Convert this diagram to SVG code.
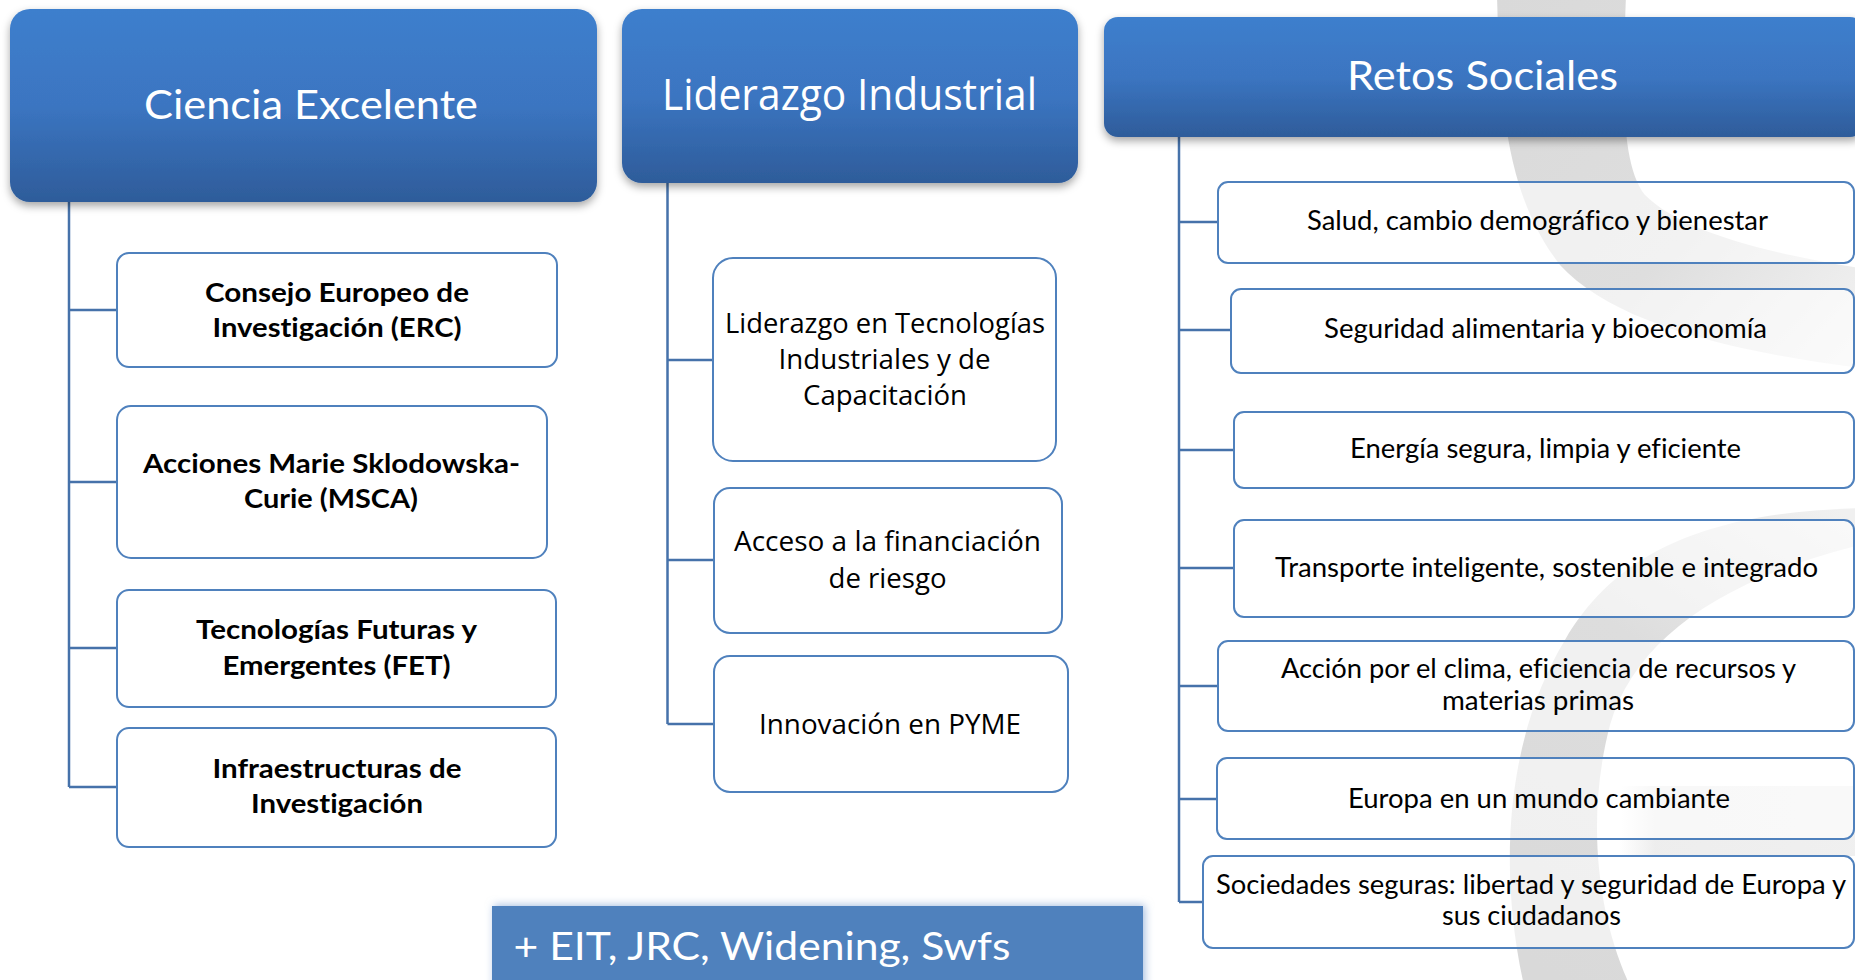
<svg xmlns="http://www.w3.org/2000/svg" width="1855" height="980" viewBox="0 0 1855 980">
<defs>
<style>
text{font-variant-ligatures:none;font-feature-settings:"liga" 0,"clig" 0;}
.hdr{fill:url(#hg);}
.box{fill:#ffffff;fill-opacity:0.6;stroke:#4F81BD;stroke-width:2;}
.conn{fill:none;stroke:#4672AA;stroke-width:2.5;}
.ht{font-family:Lato,"Liberation Sans",sans-serif;fill:#ffffff;text-anchor:middle;}
.hto{font-family:"Open Sans","Liberation Sans",sans-serif;fill:#ffffff;text-anchor:middle;}
.lb{font-family:Lato,"Liberation Sans",sans-serif;font-weight:bold;font-size:27px;fill:#000;text-anchor:middle;}
.mt{font-family:"Open Sans","Liberation Sans",sans-serif;font-size:28px;fill:#000;text-anchor:middle;}
.rt{font-family:Lato,"Liberation Sans",sans-serif;font-size:26px;fill:#000;text-anchor:middle;}
.et{font-family:Lato,"Liberation Sans",sans-serif;font-size:38px;fill:#fff;}
</style>
<linearGradient id="hg" x1="0" y1="0" x2="0" y2="1">
<stop offset="0" stop-color="#3e7fcd"/>
<stop offset="0.5" stop-color="#3b75c1"/>
<stop offset="1" stop-color="#2e5c9a"/>
</linearGradient>
<linearGradient id="wm1" gradientUnits="userSpaceOnUse" x1="1500" y1="0" x2="1855" y2="340">
<stop offset="0" stop-color="#d9d9d9"/>
<stop offset="0.6" stop-color="#dedede"/>
<stop offset="1" stop-color="#f2f2f2"/>
</linearGradient>
<linearGradient id="wm2" gradientUnits="userSpaceOnUse" x1="1560" y1="980" x2="1855" y2="520">
<stop offset="0" stop-color="#d9d9d9"/>
<stop offset="0.6" stop-color="#dddddd"/>
<stop offset="1" stop-color="#f0f0f0"/>
</linearGradient>
<linearGradient id="wm3" gradientUnits="userSpaceOnUse" x1="1620" y1="0" x2="1855" y2="0">
<stop offset="0" stop-color="#e6e6e6" stop-opacity="0"/>
<stop offset="0.15" stop-color="#e6e6e6" stop-opacity="1"/>
<stop offset="1" stop-color="#e9e9e9" stop-opacity="1"/>
</linearGradient>
<filter id="sh" x="-5%" y="-10%" width="110%" height="130%">
<feDropShadow dx="0" dy="4" stdDeviation="4" flood-color="#000" flood-opacity="0.35"/>
</filter>
<filter id="glow" x="-5%" y="-30%" width="110%" height="160%">
<feDropShadow dx="2" dy="-1" stdDeviation="4" flood-color="#7fa3d3" flood-opacity="0.7"/>
</filter>
</defs>

<rect x="0" y="0" width="1855" height="980" fill="#ffffff"/>

<g id="watermark">
<path d="M1497,-5 C1500,120 1510,200 1560,265 C1610,320 1720,350 1860,368 L1860,268 C1760,252 1680,230 1645,195 C1622,165 1622,100 1626,-5 Z" fill="url(#wm1)"/>
<path d="M1860,508 C1720,512 1620,545 1565,640 C1510,730 1495,860 1525,990 L1632,990 C1598,920 1585,820 1610,725 C1635,640 1720,580 1860,545 Z" fill="url(#wm2)"/>
<rect x="1620" y="786" width="240" height="70" fill="url(#wm3)" opacity="0.7"/>
</g>

<g id="connectors">
<path class="conn" d="M69,202 V787 M69,310 H117 M69,482 H117 M69,648 H117 M69,787 H117"/>
<path class="conn" d="M667.5,183 V724 M667.5,360 H713 M667.5,560 H714 M667.5,724 H714"/>
<path class="conn" d="M1179,137 V902 M1179,222 H1218 M1179,330 H1231 M1179,450 H1234 M1179,568 H1234 M1179,686 H1218 M1179,799 H1217 M1179,902 H1203"/>
</g>

<g id="h-ciencia">
<rect class="hdr" x="10" y="9" width="587" height="193" rx="20" filter="url(#sh)"/>
<text class="ht" x="311" y="119" font-size="40" textLength="334" lengthAdjust="spacingAndGlyphs">Ciencia Excelente</text>
</g>
<g id="h-liderazgo">
<rect class="hdr" x="622" y="9" width="456" height="174" rx="20" filter="url(#sh)"/>
<text class="hto" x="849.5" y="110" font-size="43" textLength="375" lengthAdjust="spacingAndGlyphs">Liderazgo Industrial</text>
</g>
<g id="h-retos">
<rect class="hdr" x="1104" y="17" width="760" height="120" rx="14" filter="url(#sh)"/>
<text class="ht" x="1482.5" y="90" font-size="40" textLength="271" lengthAdjust="spacingAndGlyphs">Retos Sociales</text>
</g>

<g id="n-erc">
<rect class="box" x="117" y="253" width="440" height="114" rx="12"/>
<text class="lb" x="337" y="302" textLength="264" lengthAdjust="spacingAndGlyphs">Consejo Europeo de</text>
<text class="lb" x="337" y="337" textLength="249" lengthAdjust="spacingAndGlyphs">Investigación (ERC)</text>
</g>
<g id="n-msca">
<rect class="box" x="117" y="406" width="430" height="152" rx="14"/>
<text class="lb" x="331.5" y="473" textLength="377" lengthAdjust="spacingAndGlyphs">Acciones Marie Sklodowska-</text>
<text class="lb" x="331" y="508" textLength="174" lengthAdjust="spacingAndGlyphs">Curie (MSCA)</text>
</g>
<g id="n-fet">
<rect class="box" x="117" y="590" width="439" height="117" rx="12"/>
<text class="lb" x="336.5" y="639" textLength="281" lengthAdjust="spacingAndGlyphs">Tecnologías Futuras y</text>
<text class="lb" x="336.5" y="675" textLength="228" lengthAdjust="spacingAndGlyphs">Emergentes (FET)</text>
</g>
<g id="n-infra">
<rect class="box" x="117" y="728" width="439" height="119" rx="12"/>
<text class="lb" x="337" y="778" textLength="249" lengthAdjust="spacingAndGlyphs">Infraestructuras de</text>
<text class="lb" x="337" y="813" textLength="172" lengthAdjust="spacingAndGlyphs">Investigación</text>
</g>

<g id="n-tecnologias">
<rect class="box" x="713" y="258" width="343" height="203" rx="20"/>
<text class="mt" x="885" y="333" textLength="320" lengthAdjust="spacingAndGlyphs">Liderazgo en Tecnologías</text>
<text class="mt" x="884.5" y="369" textLength="212" lengthAdjust="spacingAndGlyphs">Industriales y de</text>
<text class="mt" x="885" y="405" textLength="164" lengthAdjust="spacingAndGlyphs">Capacitación</text>
</g>
<g id="n-acceso">
<rect class="box" x="714" y="488" width="348" height="145" rx="16"/>
<text class="mt" x="887.5" y="551" textLength="307" lengthAdjust="spacingAndGlyphs">Acceso a la financiación</text>
<text class="mt" x="887.5" y="588" textLength="118" lengthAdjust="spacingAndGlyphs">de riesgo</text>
</g>
<g id="n-pyme">
<rect class="box" x="714" y="656" width="354" height="136" rx="16"/>
<text class="mt" x="890" y="734" textLength="262" lengthAdjust="spacingAndGlyphs">Innovación en PYME</text>
</g>

<g id="n-salud">
<rect class="box" x="1218" y="182" width="636" height="81" rx="10"/>
<text class="rt" x="1537.5" y="230" textLength="461" lengthAdjust="spacingAndGlyphs">Salud, cambio demográfico y bienestar</text>
</g>
<g id="n-seguridad">
<rect class="box" x="1231" y="289" width="623" height="84" rx="10"/>
<text class="rt" x="1545.5" y="338" textLength="443" lengthAdjust="spacingAndGlyphs">Seguridad alimentaria y bioeconomía</text>
</g>
<g id="n-energia">
<rect class="box" x="1234" y="412" width="620" height="76" rx="10"/>
<text class="rt" x="1545.5" y="458" textLength="391" lengthAdjust="spacingAndGlyphs">Energía segura, limpia y eficiente</text>
</g>
<g id="n-transporte">
<rect class="box" x="1234" y="520" width="620" height="97" rx="10"/>
<text class="rt" x="1546.5" y="577" textLength="543" lengthAdjust="spacingAndGlyphs">Transporte inteligente, sostenible e integrado</text>
</g>
<g id="n-clima">
<rect class="box" x="1218" y="641" width="636" height="90" rx="10"/>
<text class="rt" x="1538.5" y="678" textLength="515" lengthAdjust="spacingAndGlyphs">Acción por el clima, eficiencia de recursos y</text>
<text class="rt" x="1538" y="710" textLength="192" lengthAdjust="spacingAndGlyphs">materias primas</text>
</g>
<g id="n-europa">
<rect class="box" x="1217" y="758" width="637" height="81" rx="10"/>
<text class="rt" x="1539" y="808" textLength="382" lengthAdjust="spacingAndGlyphs">Europa en un mundo cambiante</text>
</g>
<g id="n-sociedades">
<rect class="box" x="1203" y="856" width="651" height="92" rx="10"/>
<text class="rt" x="1531" y="894" textLength="630" lengthAdjust="spacingAndGlyphs">Sociedades seguras: libertad y seguridad de Europa y</text>
<text class="rt" x="1531.5" y="925" textLength="179" lengthAdjust="spacingAndGlyphs">sus ciudadanos</text>
</g>

<g id="n-eit">
<rect x="492" y="906" width="651" height="90" fill="#4F81BD" filter="url(#glow)"/>
<text class="et" x="513.5" y="960" textLength="497" lengthAdjust="spacingAndGlyphs">+ EIT, JRC, Widening, Swfs</text>
</g>
</svg>
